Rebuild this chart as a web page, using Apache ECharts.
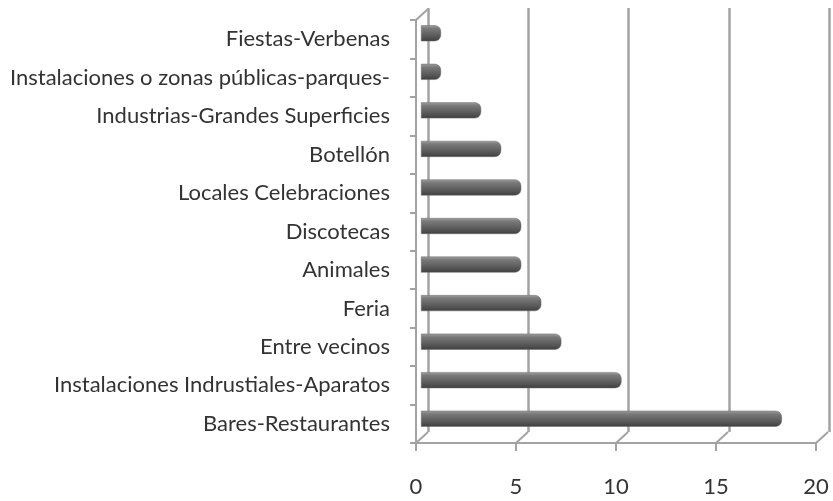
<!DOCTYPE html>
<html>
<head>
<meta charset="UTF-8">
<title>Denuncias por ruido</title>
<script type="text/javascript" src="https://cdn.jsdelivr.net/npm/echarts@6/dist/echarts.min.js"></script>
<style>
	html, body { margin: 0; padding: 0; background: #fff; }
</style>
</head>
<body>
	<div id="chart" style="width: 833px; height: 501px;"></div>

	<script type="text/javascript">
	// categorias de abajo hacia arriba
	var categorias = ['Bares-Restaurantes', 'Instalaciones Indrustiales-Aparatos', 'Entre vecinos', 'Feria',
		'Animales', 'Discotecas', 'Locales Celebraciones', 'Botellón', 'Industrias-Grandes Superficies',
		'Instalaciones o zonas públicas-parques-', 'Fiestas-Verbenas'];
	var valores = [18, 10, 7, 6, 5, 5, 5, 4, 3, 1, 1];
	var ticksX = [0, 5, 10, 15, 20];

	var chart = echarts.init(document.getElementById('chart'));

	var gris = '#a3a3a3';
	var fuente = 'Lato';
	var dx = 12, dy = 11; // desplazamiento de la pared del fondo

	var option = {
		animation: false,
		grid: [
			// plano frontal (ejes y etiquetas)
			{ left: 416, right: 17, top: 20, bottom: 58 },
			// pared del fondo (lineas de division)
			{ left: 428, right: 4, top: 8, bottom: 69 },
			// barras a media profundidad
			{ left: 421, right: 11, top: 14, bottom: 63 }
		],
		xAxis: [{
			gridIndex: 0, type: 'value', min: 0, max: 20, interval: 5,
			axisLine: { show: true, lineStyle: { color: gris, width: 2 } },
			axisTick: { show: true, length: 8, lineStyle: { color: gris, width: 2 } },
			axisLabel: { color: '#333', fontFamily: fuente, fontSize: 22, margin: 33 },
			splitLine: { show: false }
		}, {
			gridIndex: 1, type: 'value', min: 0, max: 20, interval: 5,
			axisLine: { show: false }, axisTick: { show: false }, axisLabel: { show: false },
			splitLine: { show: true, lineStyle: { color: gris, width: 2.5 } }
		}, {
			gridIndex: 2, type: 'value', min: 0, max: 20,
			axisLine: { show: false }, axisTick: { show: false }, axisLabel: { show: false },
			splitLine: { show: false }
		}],
		yAxis: [{
			gridIndex: 0, type: 'category', data: categorias,
			axisLine: { show: true, lineStyle: { color: gris, width: 2 } },
			axisTick: { show: true, length: 6, lineStyle: { color: gris, width: 2 } },
			axisLabel: { color: '#333', fontFamily: fuente, fontSize: 22, margin: 26, padding: [5, 0, 0, 0] }
		}, {
			gridIndex: 1, type: 'category', data: categorias, show: false
		}, {
			gridIndex: 2, type: 'category', data: categorias, show: false
		}],
		series: [{
			// aristas del suelo
			type: 'custom',
			xAxisIndex: 0, yAxisIndex: 0,
			data: ticksX,
			silent: true,
			renderItem: function (params, api) {
				var cs = params.coordSys;
				var x = api.coord([api.value(0), 0])[0];
				var y = cs.y + cs.height;
				return {
					type: 'line',
					shape: { x1: x, y1: y, x2: x + dx, y2: y - dy },
					style: { stroke: gris, lineWidth: 2 }
				};
			}
		}, {
			// arista superior izquierda
			type: 'custom',
			xAxisIndex: 0, yAxisIndex: 0,
			data: [0],
			silent: true,
			renderItem: function (params, api) {
				var cs = params.coordSys;
				var x = api.coord([api.value(0), 0])[0];
				return {
					type: 'line',
					shape: { x1: x, y1: cs.y, x2: x + dx, y2: cs.y - dy },
					style: { stroke: gris, lineWidth: 2 }
				};
			}
		}, {
			name: 'Denuncias',
			type: 'bar',
			xAxisIndex: 2, yAxisIndex: 2,
			data: valores,
			barWidth: 16,
			itemStyle: {
				borderRadius: [0, 6, 6, 0],
				borderColor: '#6a6a6a',
				borderWidth: 0.5,
				color: new echarts.graphic.LinearGradient(0, 0, 0, 1, [
					{ offset: 0, color: '#a0a0a0' },
					{ offset: 0.2, color: '#7a7a7a' },
					{ offset: 0.55, color: '#626262' },
					{ offset: 0.85, color: '#4c4c4c' },
					{ offset: 1, color: '#3c3c3c' }
				])
			}
		}]
	};

	chart.setOption(option);
	</script>
</body>
</html>
